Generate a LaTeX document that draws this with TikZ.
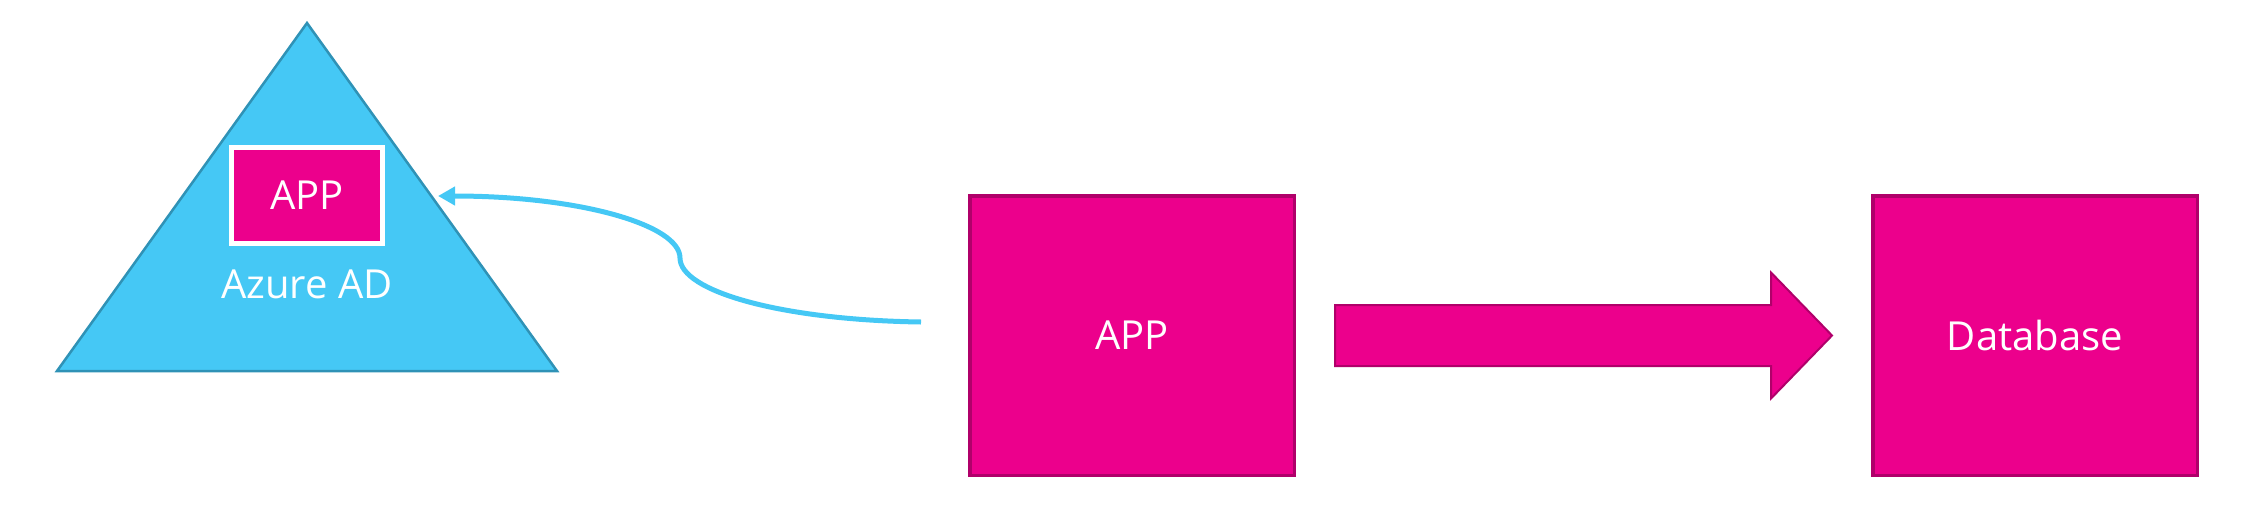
\documentclass[tikz,border=0pt]{standalone}
\usepackage{fontspec}
\setmainfont{Open Sans}
\usetikzlibrary{calc}
\usetikzlibrary{arrows.meta}
\definecolor{appfill}{HTML}{EC008C}
\definecolor{appdraw}{HTML}{B0006A}
\definecolor{adfill}{HTML}{45C8F5}
\definecolor{addraw}{HTML}{2F92B6}
\tikzset{
    appbox/.style = {rectangle, line width=3.5pt, draw=appdraw, fill=appfill, minimum width=324.5pt, minimum height=279.5pt, inner sep=0pt, text=white, font=\fontsize{40}{48}\selectfont},
    innerapp/.style = {rectangle, line width=5pt, draw=white, fill=appfill, minimum width=151pt, minimum height=96pt, inner sep=0pt, text=white, font=\fontsize{40}{48}\selectfont},
    adlabel/.style = {inner sep=0pt, text=white, font=\fontsize{40}{48}\selectfont},
    adshape/.style = {line width=2.5pt, draw=addraw, fill=adfill, line join=miter},
    authline/.style = {-{Triangle[length=17pt,width=18pt]}, line width=5pt, adfill},
    pipe/.style = {line width=2pt, draw=appdraw, fill=appfill, line join=miter}
}

\begin{document}
\begin{tikzpicture}[x=1pt,y=-1pt]
\useasboundingbox (0,0) rectangle (2243,512);
\coordinate (adtop) at (307,23);
\coordinate (adleft) at (57,371);
\coordinate (adright) at (557,371);
\draw[adshape] (adtop) -- (adright) -- (adleft) -- cycle;
\node[innerapp] at (307,195.5) (adapp) {APP};
\node[adlabel] at (307,284.5) (adname) {Azure AD};
%
\node[appbox] at (1132,335.5) (app) {APP};
\node[appbox] at (2035,335.5) (db) {Database};
%
\coordinate (authstart) at (921,322);
\coordinate (authbend) at (680,258);
\coordinate (authend) at (438,196);
\draw[authline] (authstart) .. controls (780,320) and (680,291) .. (authbend)
    .. controls (680,225) and (580,196) .. (authend);
%
\coordinate (tail) at ($(app.east)+(39,0)$);
\coordinate (tip) at ($(db.west)+(-39,0)$);
\draw[pipe] ($(tail)+(0,-30.5)$) -- ($(tip)+(-61,-30.5)$) -- ($(tip)+(-61,-63)$) -- (tip)
    -- ($(tip)+(-61,63)$) -- ($(tip)+(-61,30.5)$) -- ($(tail)+(0,30.5)$) -- cycle;
\end{tikzpicture}
\end{document}
